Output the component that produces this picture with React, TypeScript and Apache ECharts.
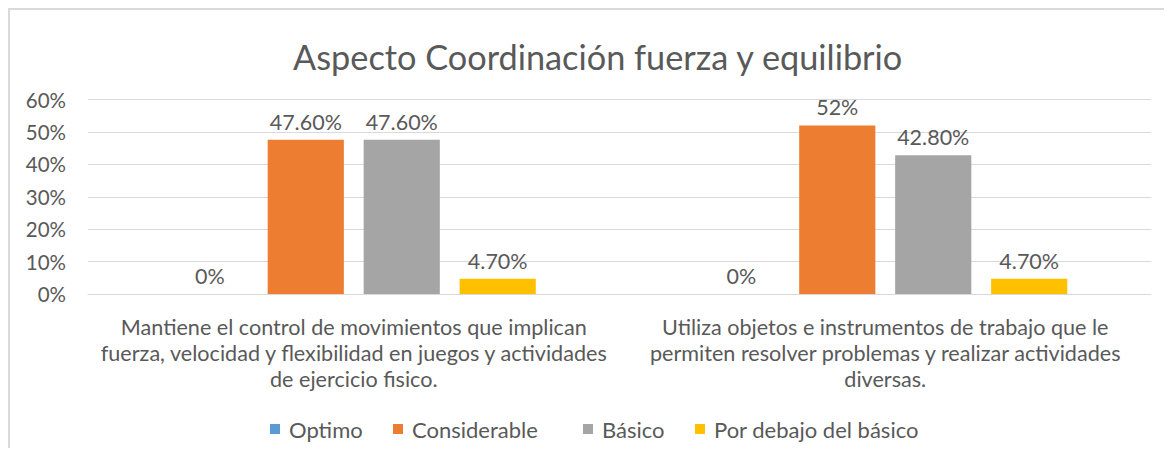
import React, { useEffect, useRef } from "react";
import * as echarts from "echarts";

const categories = [
  "Mantiene el control de movimientos que implican\nfuerza, velocidad y flexibilidad en juegos y actividades\nde ejercicio fisico.",
  "Utiliza objetos e instrumentos de trabajo que le\npermiten resolver problemas y realizar actividades\ndiversas.",
];
const seriesNames = ["Optimo", "Considerable", "Básico", "Por debajo del básico"];
const optimo = [0, 0];
const considerable = [47.6, 52];
const basico = [47.6, 42.8];
const porDebajo = [4.7, 4.7];
const optimoLabels = ["0%", "0%"];
const considerableLabels = ["47.60%", "52%"];
const basicoLabels = ["47.60%", "42.80%"];
const porDebajoLabels = ["4.70%", "4.70%"];
const yTicks = [0, 10, 20, 30, 40, 50, 60];
const colors = ["#5B9BD5", "#ED7D31", "#A5A5A5", "#FFC000"];
const legendLefts = [255, 378, 568, 680];

const FONT = "Lato";
const TEXT = "#595959";

export default function App() {
  const ref = useRef<HTMLDivElement>(null);
  useEffect(() => {
    if (!ref.current) return;
    const chart = echarts.init(ref.current, undefined, { renderer: "svg" });
    const values = [optimo, considerable, basico, porDebajo];
    const labels = [optimoLabels, considerableLabels, basicoLabels, porDebajoLabels];
    chart.setOption({
      animation: false,
      color: colors,
      title: {
        text: "Aspecto Coordinación fuerza y equilibrio",
        left: 278,
        top: 24,
        textStyle: { fontFamily: FONT, fontSize: 34.3, fontWeight: "normal", color: TEXT },
      },
      legend: seriesNames.map((name, i) => ({
        data: [name],
        top: 403,
        left: legendLefts[i],
        itemWidth: 10,
        itemHeight: 10,
        icon: "rect",
        textStyle: { fontFamily: FONT, fontSize: 22, color: TEXT, padding: [0, 0, -10, 4] },
      })),
      grid: { left: 78, right: 21, top: 89.5, bottom: 154, containLabel: false },
      xAxis: {
        type: "category",
        data: categories,
        axisLine: { lineStyle: { color: "#d9d9d9", width: 1 } },
        axisTick: { show: false },
        axisLabel: {
          interval: 0,
          fontFamily: FONT,
          fontSize: 21.6,
          color: TEXT,
          lineHeight: 26,
          margin: 20,
        },
      },
      yAxis: {
        type: "value",
        min: yTicks[0],
        max: yTicks[yTicks.length - 1],
        interval: 10,
        axisLine: { show: false },
        axisTick: { show: false },
        splitLine: { lineStyle: { color: "#d9d9d9", width: 1 } },
        axisLabel: {
          fontFamily: FONT,
          fontSize: 20.5,
          color: TEXT,
          margin: 22,
          formatter: (v: number) => v + "%",
        },
      },
      series: seriesNames.map((name, i) => ({
        name,
        type: "bar",
        data: values[i],
        barGap: "26%",
        barCategoryGap: "31.5%",
        itemStyle: { color: colors[i] },
        label: {
          show: true,
          position: "top",
          distance: 7,
          fontFamily: FONT,
          fontSize: 21.5,
          color: TEXT,
          formatter: (p: any) => labels[i][p.dataIndex],
        },
      })),
    });
    return () => chart.dispose();
  }, []);
  return (
    <div
      style={{
        width: 1164,
        height: 440,
        borderTop: "2px solid #d9d9d9",
        borderLeft: "2px solid #d9d9d9",
        boxSizing: "border-box",
        background: "#fff",
      }}
    >
      <div ref={ref} style={{ width: 1162, height: 438 }} />
    </div>
  );
}
